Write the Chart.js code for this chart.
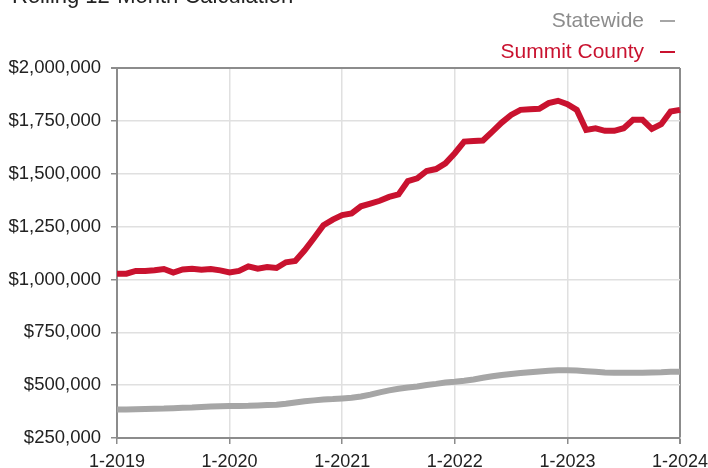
<!DOCTYPE html>
<html>
<head>
<meta charset="utf-8">
<script src="https://cdn.jsdelivr.net/npm/chart.js@4"></script>
<style>
  body { margin: 0; background: #fff; }
  #wrap { position: relative; width: 708px; height: 468px; overflow: hidden; font-family: "Liberation Sans", Arial, sans-serif; }
  #title { position: absolute; left: 12px; top: -15px; font-size: 22px; line-height: 22px; color: #222; white-space: nowrap; }
  .legendRow { position: absolute; right: 33px; font-size: 21px; line-height: 21px; white-space: nowrap; }
  .legendRow .dash { display: inline-block; width: 15px; height: 2px; margin-left: 16px; vertical-align: middle; }
</style>
</head>
<body>
<div id="wrap">
  <div id="title">Rolling 12-Month Calculation</div>
  <div id="legend"></div>
  <canvas id="priceChart" width="708" height="468"></canvas>
</div>
<script>
// ==== data ====
const yearLabels = ["1-2019", "1-2020", "1-2021", "1-2022", "1-2023", "1-2024"];

// monthly points, 1-2019 .. 1-2024
const statewide = [
  385000, 385000, 386000, 387000, 388000, 389000, 391000, 393000, 394000, 397000, 399000, 400000,
  401000, 401000, 402000, 404000, 406000, 407000, 412000, 418000, 424000, 428000, 432000, 434000,
  437000, 440000, 446000, 455000, 466000, 475000, 483000, 489000, 494000, 501000, 506000, 512000,
  516000, 521000, 527000, 535000, 542000, 548000, 553000, 557000, 561000, 565000, 568000, 570000,
  570000, 569000, 566000, 563000, 560000, 559000, 559000, 559000, 559000, 560000, 561000, 563000,
  563000
];

const summitCounty = [
  1027000, 1027000, 1040000, 1040000, 1043000, 1049000, 1032000, 1047000, 1051000, 1046000, 1049000, 1043000,
  1033000, 1040000, 1062000, 1051000, 1059000, 1054000, 1081000, 1087000, 1138000, 1196000, 1256000, 1283000,
  1304000, 1312000, 1346000, 1359000, 1372000, 1390000, 1402000, 1465000, 1478000, 1513000, 1522000, 1549000,
  1597000, 1652000, 1655000, 1657000, 1699000, 1742000, 1778000, 1802000, 1805000, 1807000, 1834000, 1845000,
  1829000, 1802000, 1707000, 1715000, 1703000, 1703000, 1715000, 1755000, 1755000, 1712000, 1734000, 1794000,
  1802000
];

const GRAY = "#a6a6a6";
const RED = "#c9122f";

// month labels m-yyyy
const months = [];
for (let y = 2019; y <= 2024; y++) {
  for (let m = 1; m <= 12; m++) {
    if (y === 2024 && m > 1) break;
    months.push(m + "-" + y);
  }
}

// ==== legend (html, text on the left, dash on the right) ====
const legendRows = [
  { label: "Statewide", text: "#8c8c8c", color: GRAY, top: 9 },
  { label: "Summit County", text: RED, color: RED, top: 40 }
];
document.getElementById("legend").innerHTML = legendRows.map(r =>
  `<div class="legendRow" style="top:${r.top}px;color:${r.text}">${r.label}<span class="dash" style="background:${r.color}"></span></div>`
).join("");

Chart.defaults.font.family = '"Liberation Sans", Arial, sans-serif';
Chart.defaults.color = "#222";

const AXIS = "#8c8c8c";
const GRID = "#e0e0e0";

new Chart(document.getElementById("priceChart").getContext("2d"), {
  type: "line",
  data: {
    labels: months,
    datasets: [
      { label: "Statewide", data: statewide, borderColor: GRAY, backgroundColor: GRAY, borderWidth: 6, pointRadius: 0, fill: false, tension: 0 },
      { label: "Summit County", data: summitCounty, borderColor: RED, backgroundColor: RED, borderWidth: 6, pointRadius: 0, fill: false, tension: 0 }
    ]
  },
  options: {
    responsive: false,
    animation: false,
    layout: { padding: { top: 68, right: 28, bottom: 0, left: 0 } },
    plugins: {
      legend: { display: false },
      title: { display: false },
      tooltip: { enabled: false }
    },
    scales: {
      x: {
        afterFit: (axis) => {
          axis.height = 30;
          // let the last label run off the edge like the original
          axis.paddingLeft = 0;
          axis.paddingRight = 0;
        },
        border: { color: AXIS, width: 2 },
        grid: {
          color: (c) => c.index % 12 !== 0 ? "transparent" : (c.index === months.length - 1 ? AXIS : GRID),
          tickColor: (c) => c.index % 12 === 0 ? AXIS : "transparent",
          lineWidth: (c) => c.index === months.length - 1 ? 2 : 1.5,
          tickLength: 6
        },
        ticks: {
          autoSkip: false,
          maxRotation: 0,
          padding: 7,
          font: { size: 18 },
          color: "#222",
          callback: (value, index) => index % 12 === 0 ? yearLabels[index / 12] : ""
        }
      },
      y: {
        min: 250000,
        max: 2000000,
        afterFit: (axis) => { axis.width = 117; },
        border: { color: AXIS, width: 2 },
        grid: {
          color: (c) => c.tick && c.tick.value === 2000000 ? AXIS : GRID,
          lineWidth: (c) => c.tick && c.tick.value === 2000000 ? 2 : 1.5,
          tickColor: AXIS,
          tickLength: 6
        },
        ticks: {
          stepSize: 250000,
          padding: 10,
          font: { size: 18.5 },
          color: "#222",
          callback: (v) => "$" + Number(v).toLocaleString("en-US")
        }
      }
    }
  }
});
</script>
</body>
</html>
